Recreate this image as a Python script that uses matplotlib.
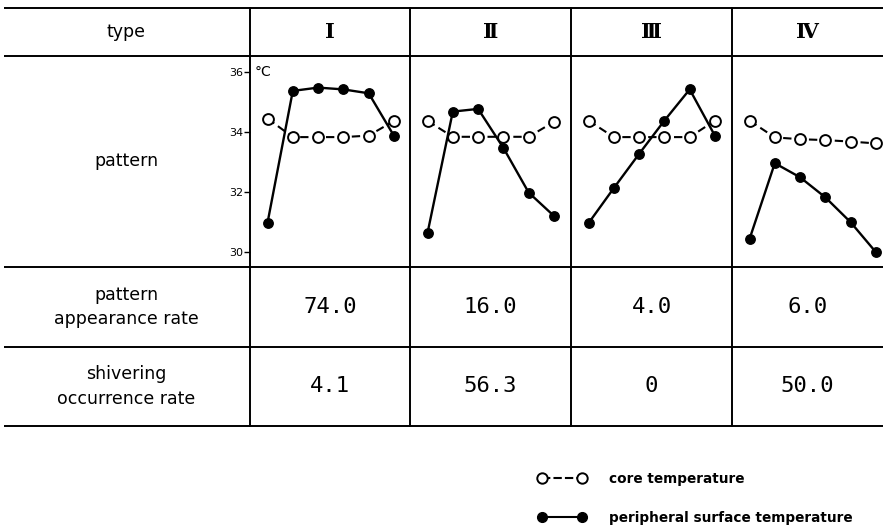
import matplotlib
matplotlib.use("Agg")
import matplotlib.pyplot as plt
from matplotlib.lines import Line2D

# ---------------- data ----------------
types = ["Ⅰ", "Ⅱ", "Ⅲ", "Ⅳ"]
row_labels = ["type", "pattern", "pattern\nappearance rate", "shivering\noccurrence rate"]
points = [0, 1, 2, 3, 4, 5]
core_I = [34.45, 33.83, 33.83, 33.83, 33.88, 34.37]
periph_I = [30.97, 35.37, 35.48, 35.42, 35.29, 33.87]
core_II = [34.37, 33.84, 33.84, 33.84, 33.84, 34.34]
periph_II = [30.63, 34.68, 34.77, 33.47, 31.98, 31.20]
core_III = [34.38, 33.83, 33.83, 33.83, 33.83, 34.38]
periph_III = [30.96, 32.13, 33.27, 34.38, 35.42, 33.87]
core_IV = [34.38, 33.82, 33.76, 33.73, 33.68, 33.62]
periph_IV = [30.43, 32.96, 32.49, 31.82, 30.99, 29.99]
appearance_rate = ["74.0", "16.0", "4.0", "6.0"]
shivering_rate = ["4.1", "56.3", "0", "50.0"]
y_ticks = [30, 32, 34, 36]
core_series = [core_I, core_II, core_III, core_IV]
periph_series = [periph_I, periph_II, periph_III, periph_IV]

# ---------------- layout (pixels) ----------------
W, H = 883, 525
fig = plt.figure(figsize=(W / 100, H / 100), dpi=100)
bg = fig.add_axes([0, 0, 1, 1])
bg.set_xlim(0, W)
bg.set_ylim(H, 0)
bg.axis("off")

col_edges = [250, 410, 571, 732, 883]
row_edges = [8, 56, 267, 347, 426]
lw_tab = 1.4
for y in row_edges:
    bg.plot([4, W], [y, y], color="black", lw=lw_tab, solid_capstyle="butt")
for x in col_edges[:-1]:
    bg.plot([x, x], [row_edges[0], row_edges[-1]], color="black", lw=lw_tab)

label_x = 126
row_centers = [(row_edges[i] + row_edges[i + 1]) / 2 for i in range(4)]
for lab, yc in zip(row_labels, row_centers):
    bg.text(label_x, yc, lab, ha="center", va="center", fontsize=12.5,
            family="DejaVu Sans", linespacing=1.45)

col_centers = [(col_edges[i] + col_edges[i + 1]) / 2 for i in range(4)]
for t, xc in zip(types, col_centers):
    bg.text(xc, row_centers[0], t, ha="center", va="center", fontsize=15,
            family="DejaVu Serif", fontweight="bold")
for v, xc in zip(appearance_rate, col_centers):
    bg.text(xc, row_centers[2], v, ha="center", va="center", fontsize=16,
            family="DejaVu Sans Mono")
for v, xc in zip(shivering_rate, col_centers):
    bg.text(xc, row_centers[3], v, ha="center", va="center", fontsize=16,
            family="DejaVu Sans Mono")

# ---------------- pattern panels ----------------
top_px, bot_px = 57, 267
y_lo = 30 - (bot_px - 252) / 30.0
y_hi = 36 + (72 - top_px) / 30.0
offset, step = 17.5, 25.3
for i in range(4):
    left, right = col_edges[i], col_edges[i + 1]
    ax = fig.add_axes([left / W, 1 - bot_px / H, (right - left) / W, (bot_px - top_px) / H])
    ax.patch.set_alpha(0)
    ax.set_xlim(-offset / step, (right - left - offset) / step)
    ax.set_ylim(y_lo, y_hi)
    for s in ax.spines.values():
        s.set_visible(False)
    ax.set_xticks([])
    ax.plot(points, core_series[i], color="black", lw=1.5, ls=(0, (4, 2.2)),
            marker="o", markersize=7.8, markerfacecolor="white",
            markeredgecolor="black", markeredgewidth=1.4, zorder=3)
    ax.plot(points, periph_series[i], color="black", lw=1.7, ls="-",
            marker="o", markersize=6.8, markerfacecolor="black",
            markeredgecolor="black", zorder=2)
    if i == 0:
        ax.set_yticks(y_ticks)
        ax.set_yticklabels([str(t) for t in y_ticks])
        ax.tick_params(axis="y", direction="out", length=4, width=1,
                       labelsize=8, pad=1)
        ax.text(0.03, 36, "°C", transform=ax.get_yaxis_transform(),
                ha="left", va="center", fontsize=10)
    else:
        ax.set_yticks([])

# ---------------- legend ----------------
handles = [
    Line2D([], [], color="black", lw=1.5, ls=(0, (4, 1.5)), marker="o",
           markersize=7.5, markerfacecolor="white", markeredgecolor="black",
           markeredgewidth=1.4),
    Line2D([], [], color="black", lw=1.5, ls="-", marker="o",
           markersize=7, markerfacecolor="black", markeredgecolor="black"),
]
fig.legend(handles, ["core temperature", "peripheral surface temperature"],
           loc="upper left", bbox_to_anchor=(538 / W, 1 - 472 / H),
           frameon=False, numpoints=2, handlelength=3.5, handletextpad=1.7,
           labelspacing=1.85, borderpad=0, borderaxespad=0,
           prop={"size": 9.8, "weight": "bold"})

fig.savefig("out.png", dpi=100)
